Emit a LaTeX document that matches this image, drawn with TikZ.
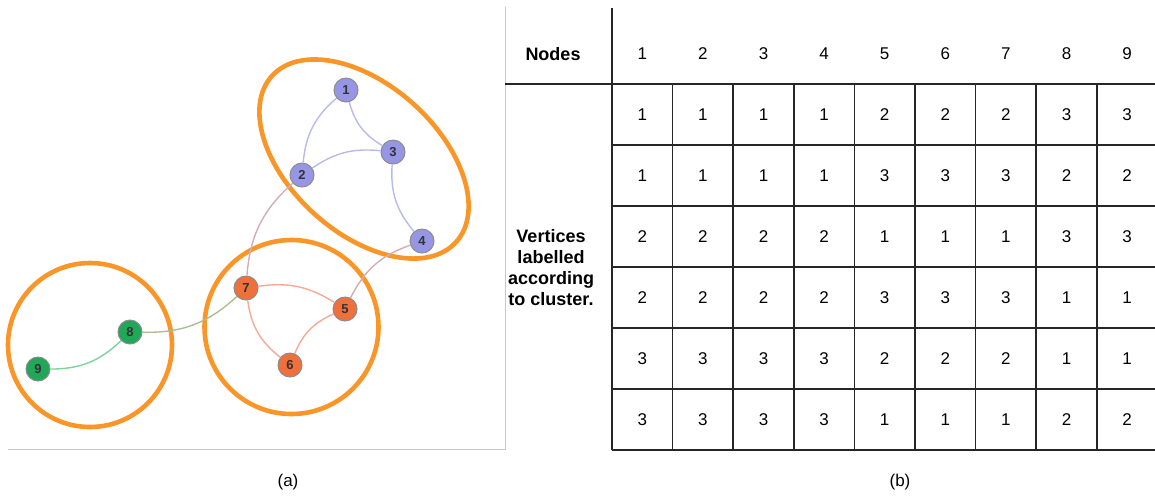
\documentclass[tikz,border=0pt]{standalone}
\usepackage{fontspec}
\setmainfont{Liberation Sans}
\usepackage{xcolor}
\usepackage{tikz}

\definecolor{ringorange}{RGB}{250,150,40}
\definecolor{bluev}{RGB}{150,150,228}
\definecolor{redv}{RGB}{240,112,60}
\definecolor{greenv}{RGB}{32,168,88}
\definecolor{bluee}{RGB}{185,185,238}
\definecolor{mauvee}{RGB}{212,172,182}
\definecolor{rede}{RGB}{246,170,150}
\definecolor{olivee}{RGB}{172,190,142}
\definecolor{greene}{RGB}{125,212,155}

\begin{document}
\begin{tikzpicture}[x=0.5pt, y=-0.5pt,
    vertex/.style={circle, draw=black!45, line width=0.5pt, inner sep=0pt, minimum size=12pt, font=\fontsize{6.5}{7}\selectfont\bfseries, text=black!80},
    cluster/.style={draw=ringorange, line width=2.3pt},
    edge/.style={line width=0.7pt, bend right=22},
    cell/.style={font=\fontsize{8.5}{10}\selectfont},
    grid/.style={draw=black!85, line width=0.75pt}]
    \useasboundingbox (0,0) rectangle (1155,495);

    % (a) graph
    \draw[black!22, line width=0.5pt] (8,449) -- (505,449) -- (505,7);
    \draw[cluster] (364,159) ellipse [x radius=124, y radius=74, rotate=-42];
    \draw[cluster] (291.5,327) circle [radius=87];
    \draw[cluster] (90,345) circle [radius=82];

    \node[vertex, fill=bluev] (n1) at (346,90) {1};
    \node[vertex, fill=bluev] (n2) at (302,175) {2};
    \node[vertex, fill=bluev] (n3) at (393,152) {3};
    \node[vertex, fill=bluev] (n4) at (422,241) {4};
    \node[vertex, fill=redv] (n5) at (345,309) {5};
    \node[vertex, fill=redv] (n6) at (290,365) {6};
    \node[vertex, fill=redv] (n7) at (246,288) {7};
    \node[vertex, fill=greenv] (n8) at (130,332) {8};
    \node[vertex, fill=greenv] (n9) at (38,369) {9};

    \draw[edge, bluee] (n1) to (n2);
    \draw[edge, bluee] (n1) to (n3);
    \draw[edge, bluee, bend left=20] (n2) to (n3);
    \draw[edge, bluee] (n3) to (n4);
    \draw[edge, mauvee] (n2) to (n7);
    \draw[edge, mauvee] (n4) to (n5);
    \draw[edge, rede, bend left=20] (n7) to (n5);
    \draw[edge, rede] (n7) to (n6);
    \draw[edge, rede] (n5) to (n6);
    \draw[edge, olivee] (n8) to (n7);
    \draw[edge, greene] (n9) to (n8);

    \node[cell] (capa) at (288,482) {(a)};

    % (b) table
    \draw[grid] (612,8) -- (612,450);
    \draw[grid] (505,84) -- (1155,84);
    \foreach \k in {1,...,6}
        \draw[grid] (612,{84+61*\k}) -- (1155,{84+61*\k});
    \foreach \k in {1,...,8}
        \draw[grid] ({612+60.6*\k},84) -- ({612+60.6*\k},450);

    \node[font=\fontsize{9}{10}\selectfont\bfseries] (nodes) at (553,54) {Nodes};
    \node[font=\fontsize{9}{10.5}\selectfont\bfseries, align=center] (verts) at (551,268)
        {Vertices\\labelled\\according\\to cluster.};
    \foreach \c in {1,...,9}
        \node[cell] (h\c) at ({642.3+60.6*(\c-1)},54) {\c};
    \foreach \row [count=\r] in {{1,1,1,1,2,2,2,3,3},{1,1,1,1,3,3,3,2,2},{2,2,2,2,1,1,1,3,3},
                                 {2,2,2,2,3,3,3,1,1},{3,3,3,3,2,2,2,1,1},{3,3,3,3,1,1,1,2,2}}
        \foreach \v [count=\c] in \row
            \node[cell] (c\r-\c) at ({642.3+60.6*(\c-1)},{84+61*(\r-0.5)}) {\v};

    \node[cell] (capb) at (900,482) {(b)};
\end{tikzpicture}
\end{document}
